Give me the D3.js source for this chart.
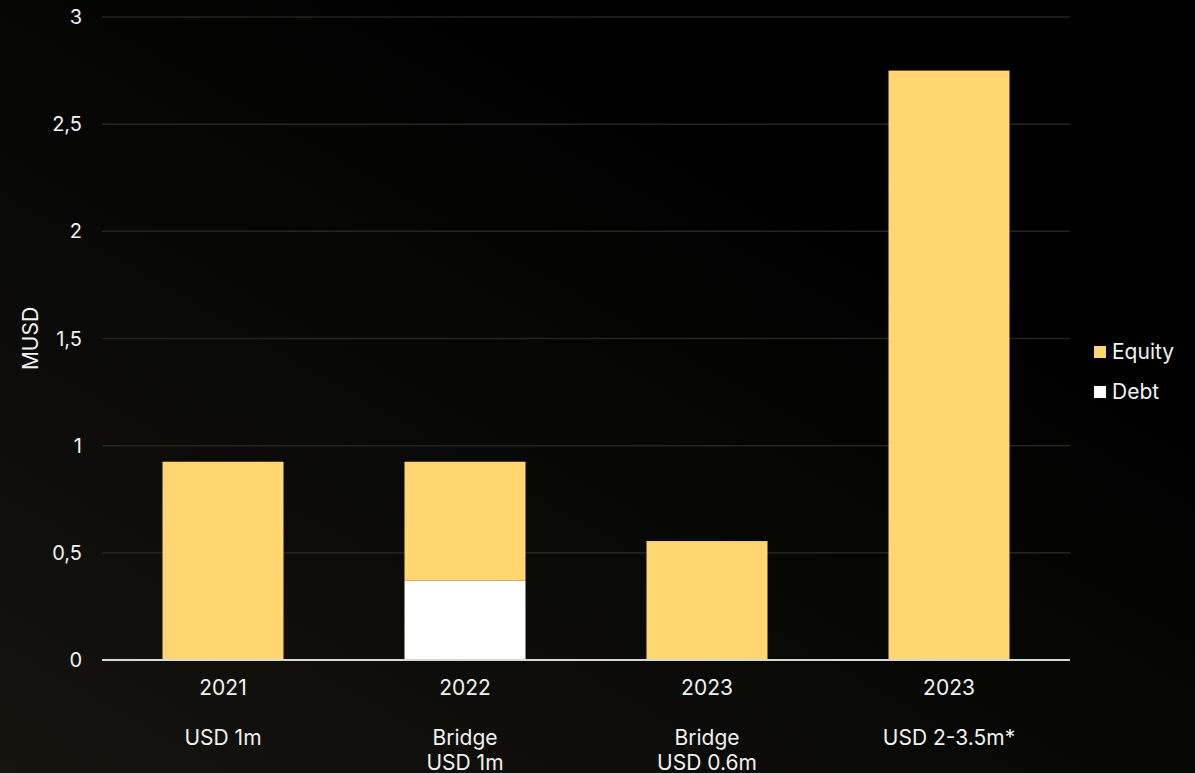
<!DOCTYPE html>
<html>
<head>
<meta charset="utf-8">
<script src="https://cdn.jsdelivr.net/npm/d3@7"></script>
<style>
	html, body { margin: 0; padding: 0; background: #000; }
	svg text { font-family: Inter, "Noto Sans", sans-serif; fill: #f2f2f2; }
</style>
</head>
<body>
<div id="chart"></div>
<script>
// rounds
var years = ["2021", "2022", "2023", "2023"]
var roundLabels = [["USD 1m"], ["Bridge", "USD 1m"], ["Bridge", "USD 0.6m"], ["USD 2-3.5m*"]]
var debt = [0, 0.37, 0, 0]
var equity = [0.925, 0.555, 0.555, 2.75]
var yTicks = [0, 0.5, 1, 1.5, 2, 2.5, 3]
var seriesNames = ["Equity", "Debt"]

var WIDTH = 1195, HEIGHT = 773
var EQUITY_COLOR = "#ffd670", DEBT_COLOR = "#ffffff"
var margin = {left: 102, right: 125, top: 17, bottom: 113}

var svg = d3.select("#chart").append("svg")
	.attr("width", WIDTH)
	.attr("height", HEIGHT)

var defs = svg.append("defs")
var grad = defs.append("linearGradient")
	.attr("id", "bg")
	.attr("x1", "0%").attr("y1", "100%")
	.attr("x2", "70%").attr("y2", "20%")
grad.append("stop").attr("offset", "0%").attr("stop-color", "#16140f")
grad.append("stop").attr("offset", "55%").attr("stop-color", "#080807")
grad.append("stop").attr("offset", "100%").attr("stop-color", "#000000")

svg.append("rect")
	.attr("width", WIDTH)
	.attr("height", HEIGHT)
	.attr("fill", "url(#bg)")

var x = d3.scaleBand()
	.domain(d3.range(years.length))
	.range([margin.left, WIDTH - margin.right])
	.paddingInner(0.5)
	.paddingOuter(0.25)

var y = d3.scaleLinear()
	.domain([0, 3])
	.range([HEIGHT - margin.bottom, margin.top])

// gridlines
svg.selectAll(".grid")
	.data(yTicks.filter(function(d){ return d > 0 }))
	.enter()
	.append("line")
	.attr("class", "grid")
	.attr("x1", margin.left)
	.attr("x2", WIDTH - margin.right)
	.attr("y1", function(d){ return y(d) })
	.attr("y2", function(d){ return y(d) })
	.attr("stroke", "#262523")
	.attr("stroke-width", 1.5)

// y tick labels
var fmt = function(d){ return String(d).replace(".", ",") }
svg.selectAll(".ytick")
	.data(yTicks)
	.enter()
	.append("text")
	.attr("class", "ytick")
	.attr("x", 82)
	.attr("y", function(d){ return y(d) })
	.attr("dy", "0.35em")
	.attr("text-anchor", "end")
	.attr("font-size", 20)
	.text(fmt)

svg.append("text")
	.attr("transform", "translate(38," + y(1.5) + ") rotate(-90)")
	.attr("text-anchor", "middle")
	.attr("font-size", 21)
	.text("MUSD")

// stacked bars
var rows = years.map(function(d, i){ return {i: i, Debt: debt[i], Equity: equity[i]} })
var stack = d3.stack().keys(["Debt", "Equity"])(rows)

svg.selectAll(".series")
	.data(stack)
	.enter()
	.append("g")
	.attr("class", "series")
	.attr("fill", function(s){ return s.key == "Debt" ? DEBT_COLOR : EQUITY_COLOR })
	.selectAll("rect")
	.data(function(s){ return s })
	.enter()
	.append("rect")
	.attr("x", function(d){ return x(d.data.i) })
	.attr("width", x.bandwidth())
	.attr("y", function(d){ return y(d[1]) })
	.attr("height", function(d){ return y(d[0]) - y(d[1]) })

// axis line
svg.append("line")
	.attr("x1", margin.left)
	.attr("x2", WIDTH - margin.right)
	.attr("y1", y(0))
	.attr("y2", y(0))
	.attr("stroke", "#d8d8d8")
	.attr("stroke-width", 2)

// category labels
var cat = svg.selectAll(".cat")
	.data(years)
	.enter()
	.append("g")
	.attr("class", "cat")
	.attr("transform", function(d, i){ return "translate(" + (x(i) + x.bandwidth()/2) + ",0)" })

cat.append("text")
	.attr("y", 688)
	.attr("dy", "0.35em")
	.attr("text-anchor", "middle")
	.attr("font-size", 21)
	.text(function(d){ return d })

cat.each(function(d, i){
	d3.select(this).selectAll(".sub")
		.data(roundLabels[i])
		.enter()
		.append("text")
		.attr("y", function(t, j){ return 738 + j * 25 })
		.attr("dy", "0.35em")
		.attr("text-anchor", "middle")
		.attr("font-size", 21)
		.text(function(t){ return t })
})

// legend
var legend = svg.selectAll(".legend")
	.data(seriesNames)
	.enter()
	.append("g")
	.attr("class", "legend")
	.attr("transform", function(d, i){ return "translate(1094," + (352 + i * 40) + ")" })

legend.append("rect")
	.attr("x", 0)
	.attr("y", -6)
	.attr("width", 12)
	.attr("height", 12)
	.attr("fill", function(d){ return d == "Debt" ? DEBT_COLOR : EQUITY_COLOR })

legend.append("text")
	.attr("x", 18)
	.attr("dy", "0.35em")
	.attr("font-size", 21)
	.text(function(d){ return d })
</script>
</body>
</html>
